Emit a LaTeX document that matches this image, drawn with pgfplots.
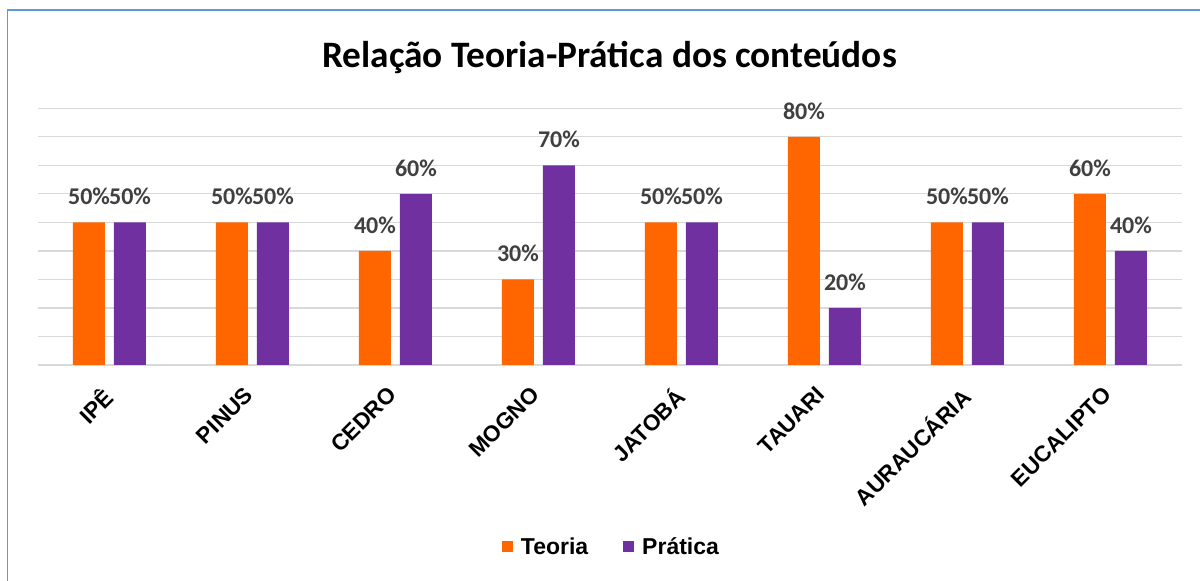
\documentclass[border=0pt]{standalone}
\usepackage{pgfplots}
\pgfplotsset{compat=1.18}
\usepackage{fontspec}
\setmainfont{Liberation Sans}
\newfontfamily\carlito{Carlito}
\definecolor{teoria}{HTML}{FF6600}
\definecolor{pratica}{HTML}{7030A0}
\definecolor{gridc}{HTML}{D9D9D9}
\definecolor{lab}{HTML}{404040}
\definecolor{framec}{HTML}{5B9BD5}
\begin{document}
\begin{tikzpicture}
\path[use as bounding box] (0,0) rectangle (1200bp,581bp);
\draw[framec, line width=1.5bp] (7.5bp,0) -- (7.5bp,571bp) -- (1200bp,571bp);
\node[font=\carlito\bfseries\fontsize{37.3bp}{44bp}\selectfont, anchor=base, inner sep=0pt] at (609.5bp,513bp) {Relação Teoria-Prática dos conteúdos};
\begin{axis}[
  at={(38bp,216bp)}, anchor=south west,
  width=1144bp, height=256.7bp, scale only axis,
  ybar, bar width=32bp,
  xmin=-0.5, xmax=7.5, ymin=0, ymax=90,
  xtick={0,...,7},
  xticklabels={IPÊ,PINUS,CEDRO,MOGNO,JATOBÁ,TAUARI,AURAUCÁRIA,EUCALIPTO},
  xticklabel style={xshift=-9bp, yshift=-20bp, rotate=45, anchor=north east, inner sep=0pt, font=\bfseries\fontsize{22.5bp}{26bp}\selectfont},
  ytick={0,10,...,90}, yticklabels={},
  ymajorgrids, grid style={gridc, line width=1.2bp},
  major tick length=0pt,
  axis line style={draw=none},
  clip=false,
  /pgf/number format/assume math mode=true,
  nodes near coords={\pgfmathprintnumber{\pgfplotspointmeta}\%},
  every node near coord/.append style={font=\carlito\bfseries\fontsize{24bp}{28bp}\selectfont, text=lab, anchor=center, yshift=26bp, inner sep=0pt},
  point meta=y,
  legend columns=2,
  legend style={draw=none, at={(0.5013,-0.709)}, anchor=center, font=\bfseries\fontsize{23bp}{27bp}\selectfont, /tikz/every even column/.append style={column sep=33bp}, /tikz/every odd column/.append style={column sep=6bp}},
  legend image code/.code={\fill[#1] (0bp,-5.5bp) rectangle (11bp,5.5bp);},
]
\addplot[fill=teoria, draw=none, bar shift=-20.5bp] coordinates {(0,50) (1,50) (2,40) (3,30) (4,50) (5,80) (6,50) (7,60)};
\addplot[fill=pratica, draw=none, bar shift=20.5bp] coordinates {(0,50) (1,50) (2,60) (3,70) (4,50) (5,20) (6,50) (7,40)};
\legend{Teoria, Prática}
\end{axis}
\end{tikzpicture}
\end{document}
